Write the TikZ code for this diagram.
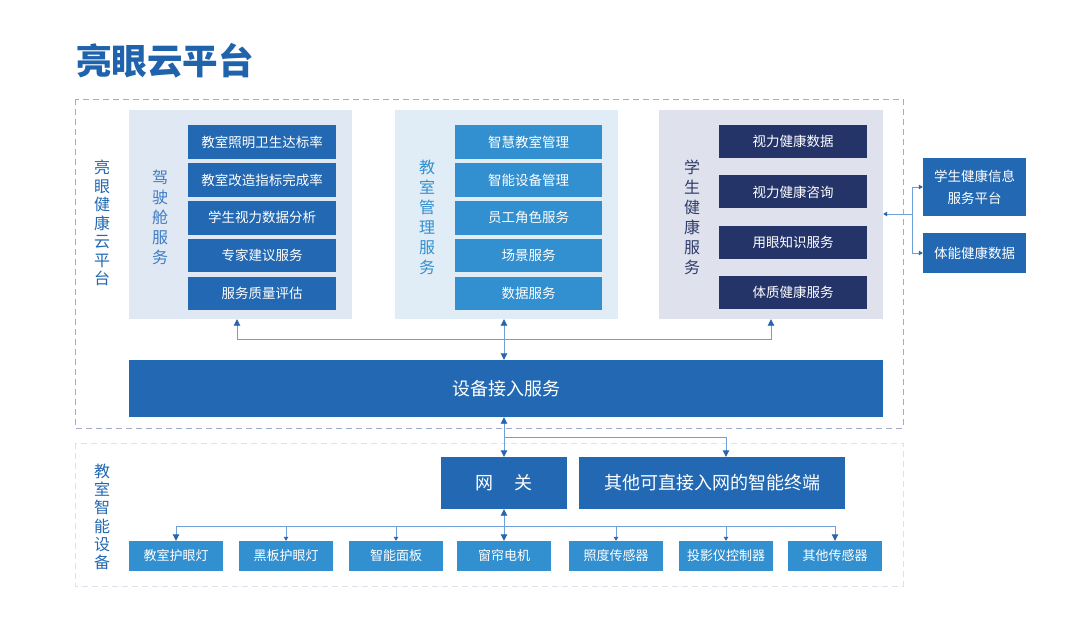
\documentclass[tikz,border=0pt]{standalone}
\usepackage{fontspec}
\newfontfamily\cjk{Noto Sans CJK SC}
\usetikzlibrary{positioning,arrows.meta}

\definecolor{titleblue}{HTML}{1F63AD}
\definecolor{midblue}{HTML}{2268B2}
\definecolor{brightblue}{HTML}{3390D0}
\definecolor{navyblue}{HTML}{243469}
\definecolor{linkblue}{HTML}{6D9FD8}
\definecolor{tipblue}{HTML}{2A64AD}
\definecolor{cockpitbg}{HTML}{DFE8F3}
\definecolor{managebg}{HTML}{E0EDF7}
\definecolor{healthbg}{HTML}{DFE1EC}
\definecolor{cockpittxt}{HTML}{3F7CC2}
\definecolor{healthtxt}{HTML}{2F3C6C}
\definecolor{topframe}{HTML}{A3ACC4}
\definecolor{lowframe}{HTML}{DCE1EC}

\begin{document}
\begin{tikzpicture}[
    x=1pt, y=-1pt,
    every node/.style={font=\cjk},
    panel/.style={rectangle, minimum width=223pt, minimum height=209pt, inner sep=0pt},
    item/.style={rectangle, fill=#1, text=white, minimum width=148pt, minimum height=33.5pt,
                 inner sep=0pt, font=\cjk\fontsize{13.5}{16}\selectfont},
    vlabel/.style={text=#1, align=center, inner sep=0pt, font=\cjk\fontsize{16}{20}\selectfont},
    bigbox/.style={rectangle, fill=midblue, text=white, inner sep=0pt, font=\cjk\fontsize{18}{22}\selectfont},
    devbox/.style={rectangle, fill=brightblue, text=white, minimum width=94pt, minimum height=30pt,
                   inner sep=0pt, font=\cjk\fontsize{13}{15}\selectfont},
    frame/.style={draw=#1, line width=0.8pt, dash pattern=on 6pt off 4pt},
    link/.style={draw=linkblue, line width=0.9pt},
    tip/.style={link, -{Triangle[length=6.5pt, width=6.5pt, color=tipblue]}},
    both/.style={link, {Triangle[length=6.5pt, width=6.5pt, color=tipblue]}-{Triangle[length=6.5pt, width=6.5pt, color=tipblue]}},
    smalltip/.style={link, -{Triangle[length=4pt, width=4.5pt, color=tipblue]}},
]
\path[fill=white, use as bounding box] (0,0) rectangle (1080,640);

% title
\node[text=titleblue, anchor=west, inner sep=0pt, font=\cjk\bfseries\fontsize{35.5}{40}\selectfont] (title) at (76,61) {亮眼云平台};

% frames
\draw[frame=topframe] (75,99) rectangle (903,428);
\draw[frame=lowframe] (75,443) rectangle (903,586);
\node[vlabel=midblue, font=\cjk\fontsize{16}{18.5}\selectfont] (cloudlbl) at (102,223) {亮\\眼\\健\\康\\云\\平\\台};
\node[vlabel=midblue, font=\cjk\fontsize{16}{18.3}\selectfont] (devlbl) at (102,517) {教\\室\\智\\能\\设\\备};

% cockpit services
\node[panel, fill=cockpitbg] (cockpit) at (240.5,214.5) {};
\node[vlabel=cockpittxt] (cockpitlbl) at (160,217) {驾\\驶\\舱\\服\\务};
\node[item=midblue] (c1) at (262,142) {教室照明卫生达标率};
\node[item=midblue, below=4pt of c1] (c2) {教室改造指标完成率};
\node[item=midblue, below=4pt of c2] (c3) {学生视力数据分析};
\node[item=midblue, below=4pt of c3] (c4) {专家建议服务};
\node[item=midblue, below=4pt of c4] (c5) {服务质量评估};

% classroom management
\node[panel, fill=managebg] (manage) at (506.5,214.5) {};
\node[vlabel=brightblue] (managelbl) at (427,217) {教\\室\\管\\理\\服\\务};
\node[item=brightblue, minimum width=147pt] (m1) at (528.5,142) {智慧教室管理};
\node[item=brightblue, minimum width=147pt, below=4pt of m1] (m2) {智能设备管理};
\node[item=brightblue, minimum width=147pt, below=4pt of m2] (m3) {员工角色服务};
\node[item=brightblue, minimum width=147pt, below=4pt of m3] (m4) {场景服务};
\node[item=brightblue, minimum width=147pt, below=4pt of m4] (m5) {数据服务};

% student health
\node[panel, minimum width=224pt, fill=healthbg] (health) at (771,214.5) {};
\node[vlabel=healthtxt] (healthlbl) at (692,217) {学\\生\\健\\康\\服\\务};
\node[item=navyblue, minimum height=33pt] (h1) at (793,141.5) {视力健康数据};
\node[item=navyblue, minimum height=33pt, below=17pt of h1] (h2) {视力健康咨询};
\node[item=navyblue, minimum height=33pt, below=17pt of h2] (h3) {用眼知识服务};
\node[item=navyblue, minimum height=33pt, below=17pt of h3] (h4) {体质健康服务};

% outside platforms
\node[item=midblue, minimum width=103pt, minimum height=58pt, align=center,
      font=\cjk\fontsize{13.5}{22}\selectfont] (infoplat) at (974.5,187) {学生健康信息\\服务平台};
\node[item=midblue, minimum width=103pt, minimum height=40pt] (fitness) at (974.5,253) {体能健康数据};

% access layer
\node[bigbox, minimum width=754pt, minimum height=57pt] (access) at (506,388.5) {设备接入服务};
\node[bigbox, minimum width=126pt, minimum height=52pt] (gateway) at (504,483) {网\hspace{22pt}关};
\node[bigbox, minimum width=266pt, minimum height=52pt] (terminal) at (712,483) {其他可直接入网的智能终端};

% classroom devices
\node[devbox] (d1) at (176,556) {教室护眼灯};
\node[devbox] (d2) at (286,556) {黑板护眼灯};
\node[devbox] (d3) at (396,556) {智能面板};
\node[devbox] (d4) at (504,556) {窗帘电机};
\node[devbox] (d5) at (616,556) {照度传感器};
\node[devbox] (d6) at (726,556) {投影仪控制器};
\node[devbox] (d7) at (835,556) {其他传感器};

% connectors
\coordinate (hubtop) at (504,339);
\coordinate (hubmid) at (504,437);
\coordinate (hubdev) at (504,526);
\coordinate (hubside) at (912,214);
\draw[both] (gateway |- manage.south) -- (gateway |- access.north);
\draw[tip] (hubtop) -| ([xshift=-3.5pt]cockpit.south);
\draw[tip] (hubtop) -| (health.south);
\draw[both] (gateway |- access.south) -- (gateway.north);
\draw[tip] (hubmid) -| ([xshift=14pt]terminal.north);
\draw[both] (gateway.south) -- (d4.north);
\draw[link] (d1.north |- hubdev) -- (d7.north |- hubdev);
\draw[tip] (d1.north |- hubdev) -- (d1.north);
\draw[smalltip] (d2.north |- hubdev) -- (d2.north);
\draw[smalltip] (d3.north |- hubdev) -- (d3.north);
\draw[smalltip] (d5.north |- hubdev) -- (d5.north);
\draw[smalltip] (d6.north |- hubdev) -- (d6.north);
\draw[tip] (d7.north |- hubdev) -- (d7.north);
\draw[smalltip] (hubside) -- (health.east |- hubside);
\draw[smalltip] (hubside) |- (infoplat.west);
\draw[smalltip] (hubside) |- (fitness.west);
\end{tikzpicture}
\end{document}
